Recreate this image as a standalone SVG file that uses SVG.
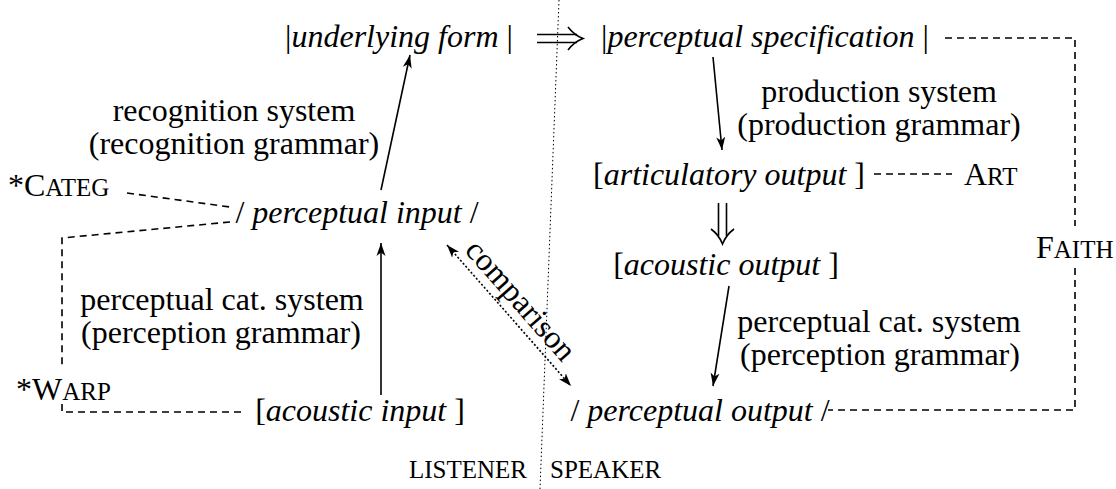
<svg xmlns="http://www.w3.org/2000/svg" width="1116" height="489" viewBox="0 0 1116 489">
<defs>
<marker id="ah" markerWidth="14" markerHeight="10" refX="13" refY="5" orient="auto" markerUnits="userSpaceOnUse">
<path d="M0,0.5 L13,5 L0,9.5 L3.5,5 Z" fill="#000"/>
</marker>
<marker id="ahs" markerWidth="14" markerHeight="10" refX="13" refY="5" orient="auto-start-reverse" markerUnits="userSpaceOnUse">
<path d="M0,0.5 L13,5 L0,9.5 L3.5,5 Z" fill="#000"/>
</marker>
</defs>
<style>
text{font-family:"Liberation Serif","Times New Roman",serif;font-size:32px;fill:#000}
.it{font-style:italic}
.sc{font-size:25px}
.c{text-anchor:middle}
.solid{stroke:#000;stroke-width:1.6;fill:none}
.dash{stroke:#000;stroke-width:1.6;fill:none;stroke-dasharray:7 5}
.dot{stroke:#000;stroke-width:1.6;fill:none;stroke-dasharray:2 2}
.div{stroke:#000;stroke-width:1;fill:none;stroke-dasharray:1.5 2.5}
</style>
<rect width="1116" height="489" fill="#fff"/>
<g id="connectors">
<line class="div" x1="559" y1="0" x2="540" y2="489"/>
<line class="solid" x1="381" y1="395" x2="381" y2="243" marker-end="url(#ah)"/>
<line class="solid" x1="381" y1="190" x2="410" y2="55" marker-end="url(#ah)"/>
<line class="solid" x1="713" y1="57" x2="722" y2="150" marker-end="url(#ah)"/>
<line class="solid" x1="729" y1="286" x2="713" y2="386" marker-end="url(#ah)"/>
<line class="dot" x1="447" y1="245" x2="571" y2="386" marker-start="url(#ahs)" marker-end="url(#ahs)"/>
<g id="implies">
<path class="solid" d="M537,34.5 H577 M537,42.5 H577"/>
<path class="solid" d="M568,27 Q574,35 583,38.5 Q574,42 568,50"/>
</g>
<g id="implies-down">
<path class="solid" d="M718.5,203 V236 M726.5,203 V236"/>
<path class="solid" d="M711,229 Q719,235 722.5,244 Q726,235 734,229"/>
</g>
<polyline class="dash" points="127,193 230,207"/>
<polyline class="dash" points="230,222 62,238 62,368"/>
<polyline class="dash" points="62,404 62,412 245,412"/>
<line class="dash" x1="874" y1="174" x2="952" y2="174"/>
<polyline class="dash" points="945,38 1075,38 1075,226"/>
<polyline class="dash" points="1075,268 1075,410 828,410"/>
<text class="c" transform="translate(513,307) rotate(48.7)">comparison</text>
</g>
<g id="underlying-form"><text class="c" x="399" y="47">|<tspan class="it">underlying form</tspan> |</text></g>
<g id="perceptual-specification"><text class="c" x="765" y="47">|<tspan class="it">perceptual specification</tspan> |</text></g>
<g id="articulatory-output"><text class="c" x="729" y="185">[<tspan class="it">articulatory output</tspan> ]</text></g>
<g id="acoustic-output"><text class="c" x="726" y="275">[<tspan class="it">acoustic output</tspan> ]</text></g>
<g id="perceptual-output"><text class="c" x="700" y="421">/ <tspan class="it">perceptual output</tspan> /</text></g>
<g id="perceptual-input"><text class="c" x="357" y="223">/ <tspan class="it">perceptual input</tspan> /</text></g>
<g id="acoustic-input"><text class="c" x="360" y="421">[<tspan class="it">acoustic input</tspan> ]</text></g>
<g id="labels">
<text class="c" x="234" y="121">recognition system</text>
<text class="c" x="234" y="154">(recognition grammar)</text>
<text class="c" x="879" y="102">production system</text>
<text class="c" x="879" y="135">(production grammar)</text>
<text class="c" x="222" y="310">perceptual cat. system</text>
<text class="c" x="221" y="343">(perception grammar)</text>
<text class="c" x="879" y="332">perceptual cat. system</text>
<text class="c" x="880" y="365">(perception grammar)</text>
</g>
<g id="constraints">
<text x="8" y="196">*C<tspan class="sc">ATEG</tspan></text>
<text x="16" y="400">*W<tspan class="sc">ARP</tspan></text>
<text x="964" y="185">A<tspan class="sc">RT</tspan></text>
<text x="1036" y="258">F<tspan class="sc">AITH</tspan></text>
</g>
<g id="roles">
<text class="sc" x="527" y="478" text-anchor="end">LISTENER</text>
<text class="sc" x="550" y="478">SPEAKER</text>
</g>
</svg>
